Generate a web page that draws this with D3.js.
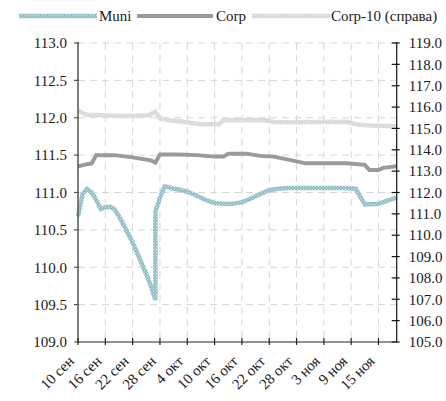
<!DOCTYPE html>
<html><head><meta charset="utf-8">
<script src="https://cdn.jsdelivr.net/npm/d3@7"></script>
<style>
body{margin:0;background:#fff;}
text{font-family:"Liberation Serif","DejaVu Serif",serif;fill:#1a1a1a;}
</style></head>
<body><svg id="c" width="446" height="401"></svg>
<script>
const seriesNames = ["Muni","Corp","Corp-10 (справа)"];
const xTickDates = ["2018-09-10","2018-09-16","2018-09-22","2018-09-28","2018-10-04","2018-10-10","2018-10-16","2018-10-22","2018-10-28","2018-11-03","2018-11-09","2018-11-15"];
const monthNames = ["янв","фев","мар","апр","май","июн","июл","авг","сен","окт","ноя","дек"];
const leftTicks = [109.0,109.5,110.0,110.5,111.0,111.5,112.0,112.5,113.0];
const rightTicks = [105,106,107,108,109,110,111,112,113,114,115,116,117,118,119];

const muni = [
["2018-09-10",110.68],["2018-09-11",110.98],["2018-09-12",111.05],["2018-09-13",111.0],
["2018-09-14",110.9],["2018-09-15",110.78],["2018-09-16",110.80],["2018-09-17",110.81],
["2018-09-18",110.78],["2018-09-19",110.68],["2018-09-20",110.57],["2018-09-21",110.45],
["2018-09-22",110.33],["2018-09-23",110.19],["2018-09-24",110.05],["2018-09-25",109.91],
["2018-09-26",109.75],["2018-09-27",109.56],["2018-09-27",110.74],["2018-09-28",110.93],
["2018-09-29",111.08],["2018-09-30",111.07],["2018-10-01",111.05],["2018-10-02",111.04],
["2018-10-04",111.01],["2018-10-06",110.96],["2018-10-08",110.90],["2018-10-10",110.86],
["2018-10-12",110.85],["2018-10-14",110.85],["2018-10-16",110.87],["2018-10-18",110.92],
["2018-10-20",110.98],["2018-10-22",111.03],["2018-10-24",111.05],["2018-10-26",111.06],
["2018-10-30",111.06],["2018-11-03",111.06],["2018-11-07",111.06],["2018-11-10",111.05],
["2018-11-12",110.84],["2018-11-15",110.85],["2018-11-17",110.89],["2018-11-19",110.93]
];
const corp = [
["2018-09-10",111.35],["2018-09-12",111.38],["2018-09-13",111.39],["2018-09-14",111.50],
["2018-09-18",111.50],["2018-09-22",111.47],["2018-09-26",111.43],["2018-09-27",111.40],
["2018-09-28",111.51],["2018-10-02",111.51],["2018-10-06",111.50],["2018-10-10",111.48],
["2018-10-12",111.48],["2018-10-13",111.52],["2018-10-17",111.52],["2018-10-20",111.49],
["2018-10-23",111.48],["2018-10-27",111.43],["2018-10-30",111.39],["2018-11-08",111.39],
["2018-11-12",111.37],["2018-11-13",111.30],["2018-11-15",111.30],["2018-11-16",111.33],
["2018-11-19",111.35]
];
const corp10 = [
["2018-09-10",115.85],["2018-09-11",115.72],["2018-09-12",115.64],["2018-09-14",115.63],
["2018-09-20",115.58],["2018-09-25",115.60],["2018-09-26",115.66],["2018-09-27",115.78],
["2018-09-28",115.47],["2018-09-30",115.38],["2018-10-03",115.31],["2018-10-07",115.20],
["2018-10-10",115.19],["2018-10-11",115.20],["2018-10-12",115.38],["2018-10-21",115.39],
["2018-10-23",115.30],["2018-10-27",115.29],["2018-11-08",115.31],["2018-11-10",115.19],
["2018-11-13",115.14],["2018-11-19",115.10]
];

const parse = d3.timeParse("%Y-%m-%d");
const svg = d3.select("#c");
const L = 78, R = 396.7, T = 43, B = 342;

const x = d3.scaleTime().domain([parse("2018-09-10"), parse("2018-11-19")]).range([L, R]);
const yL = d3.scaleLinear().domain([109, 113]).range([B, T]);
const yR = d3.scaleLinear().domain([105, 119]).range([B, T]);

// patterns
const defs = svg.append("defs");
function pat(id, base, dot){
  const p = defs.append("pattern").attr("id", id).attr("patternUnits","userSpaceOnUse").attr("width",3).attr("height",3);
  p.append("rect").attr("width",3).attr("height",3).attr("fill",base);
  p.append("rect").attr("x",0).attr("y",0).attr("width",1).attr("height",1).attr("fill",dot);
  p.append("rect").attr("x",1.5).attr("y",1.5).attr("width",1).attr("height",1).attr("fill",dot);
}
pat("pMuni", "#8fbcc5", "#d6eaee");
pat("pC10", "#d6d6d6", "#f2f2f2");

// grid
const g = svg.append("g");
g.selectAll(".hg").data(leftTicks.filter(v => v > 109)).enter().append("line")
  .attr("x1", L).attr("x2", R).attr("y1", d => yL(d)).attr("y2", d => yL(d))
  .attr("stroke", "#d6d6d6").attr("stroke-dasharray", "7,5");
g.selectAll(".vg").data(xTickDates.slice(1)).enter().append("line")
  .attr("x1", d => x(parse(d))).attr("x2", d => x(parse(d))).attr("y1", T).attr("y2", B)
  .attr("stroke", "#d6d6d6").attr("stroke-dasharray", "7,5");

// lines
const line = (ys) => d3.line().x(d => x(parse(d[0]))).y(d => ys(d[1]));
svg.append("path").datum(corp10).attr("d", line(yR)).attr("fill","none")
  .attr("stroke","url(#pC10)").attr("stroke-width",4.5);
svg.append("path").datum(corp).attr("d", line(yL)).attr("fill","none")
  .attr("stroke","#9a9a9a").attr("stroke-width",4);
svg.append("path").datum(muni).attr("d", line(yL)).attr("fill","none")
  .attr("stroke","url(#pMuni)").attr("stroke-width",4.5);

// left axis
const fmt = d3.format(".1f");
const ax = svg.append("g");
ax.append("line").attr("x1", L).attr("x2", L).attr("y1", T - 1).attr("y2", B).attr("stroke", "#555").attr("stroke-width", 1.5);
ax.selectAll(".lt").data(leftTicks).enter().append("line")
  .attr("x1", L - 4).attr("x2", L + 1).attr("y1", d => yL(d)).attr("y2", d => yL(d)).attr("stroke", "#555").attr("stroke-width", 1.2);
ax.selectAll(".ll").data(leftTicks).enter().append("text")
  .attr("x", L - 11).attr("y", d => yL(d)).attr("dy", "0.35em").attr("text-anchor", "end")
  .attr("font-size", 15).text(d => fmt(d));

// right axis
ax.append("line").attr("x1", R).attr("x2", R).attr("y1", T - 1).attr("y2", B).attr("stroke", "#111").attr("stroke-width", 1.2);
ax.selectAll(".rt").data(rightTicks).enter().append("line")
  .attr("x1", R - 5).attr("x2", R + 3).attr("y1", d => yR(d)).attr("y2", d => yR(d)).attr("stroke", "#111").attr("stroke-width", 1.2);
ax.selectAll(".rl").data(rightTicks).enter().append("text")
  .attr("x", R + 12).attr("y", d => yR(d)).attr("dy", "0.35em").attr("text-anchor", "start")
  .attr("font-size", 15).text(d => fmt(d));

// bottom axis
ax.append("line").attr("x1", L).attr("x2", R).attr("y1", B).attr("y2", B).attr("stroke", "#222").attr("stroke-width", 1.2);
ax.selectAll(".bt").data(xTickDates).enter().append("line")
  .attr("x1", d => x(parse(d))).attr("x2", d => x(parse(d))).attr("y1", B - 4).attr("y2", B + 3).attr("stroke", "#222").attr("stroke-width", 1.2);
ax.selectAll(".bl").data(xTickDates).enter().append("text")
  .attr("transform", d => `translate(${x(parse(d)) - 3},${B + 20}) rotate(-45)`)
  .attr("text-anchor", "end").attr("font-size", 15)
  .text(d => { const t = parse(d); return t.getDate() + " " + monthNames[t.getMonth()]; });

// legend
const leg = svg.append("g");
const legItems = [
  {name: seriesNames[0], x1: 19, x2: 97, tx: 99, stroke: "url(#pMuni)", w: 4.5},
  {name: seriesNames[1], x1: 137, x2: 213, tx: 216, stroke: "#9a9a9a", w: 4},
  {name: seriesNames[2], x1: 252, x2: 330, tx: 331, stroke: "url(#pC10)", w: 4.5}
];
legItems.forEach(it => {
  leg.append("line").attr("x1", it.x1).attr("x2", it.x2).attr("y1", 16).attr("y2", 16)
    .attr("stroke", it.stroke).attr("stroke-width", it.w);
  leg.append("text").attr("x", it.tx).attr("y", 16).attr("dy", "0.35em").attr("font-size", 15).text(it.name);
});
</script></body></html>
